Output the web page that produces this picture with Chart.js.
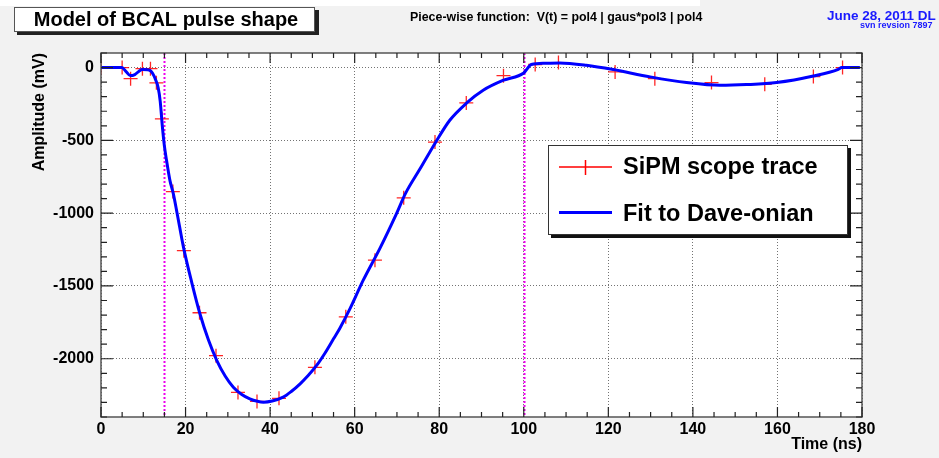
<!DOCTYPE html>
<html>
<head>
<meta charset="utf-8">
<script src="https://cdn.jsdelivr.net/npm/chart.js@4.4.0/dist/chart.umd.min.js"></script>
<style>
  html, body { margin: 0; padding: 0; background: #f2f2f2; }
  canvas { display: block; }
</style>
</head>
<body>
<canvas id="pulseChart" width="939" height="458"></canvas>
<script>
// scope trace samples (ns, mV)
var traceT = [0, 5.0, 7.0, 9.8, 11.7, 13.1, 14.4, 17.0, 19.6, 23.3, 27.2, 32.4, 36.9, 42.1,
              50.6, 57.9, 64.8, 71.6, 79.0, 86.4, 95.2, 102.7, 108.2, 121.6, 131.0, 144.4,
              157.0, 168.5, 175.4];
var traceV = [0, 0, -76, -8, -8, -105, -352, -852, -1258, -1684, -1979, -2231, -2293, -2272,
              -2059, -1712, -1323, -895, -512, -243, -56, 21, 34, -30, -76, -103,
              -115, -62, 0];

// fitted curve
var fitT = [0, 4.9, 6.0, 6.9, 8.0, 9.0, 9.8, 11.0, 11.8, 12.5, 13.0, 13.5, 14.0, 14.5, 15.0,
            15.5, 16.3, 17.1, 18.0, 19.5, 21.5, 23.4, 25.4, 27.4, 29.4, 31.3, 33.3, 35.2,
            37.0, 38.4, 40.5, 43.1, 45.0, 47.1, 49.0, 51.0, 53.0, 55.0, 56.5, 58.9, 62.0,
            66.0, 69.9, 72.0, 75.5, 79.2, 82.5, 86.5, 90.4, 95.2, 100.0, 101.8, 105.0,
            108.5, 114.8, 121.2, 129.9, 138.5, 146.4, 152.7, 159.8, 168.5, 174.4, 175.2, 179.5];
var fitV = [0, 0, -30, -55, -48, -25, -14, -15, -25, -55, -90, -135, -230, -400, -540,
            -637, -775, -866, -1000, -1233, -1480, -1691, -1870, -2012, -2120, -2195, -2245, -2275,
            -2292, -2298, -2290, -2264, -2225, -2172, -2115, -2046, -1960, -1863, -1790, -1656, -1462,
            -1240, -1003, -866, -694, -511, -362, -243, -156, -87, -37, 21, 30,
            32, 16, -14, -64, -103, -122, -117, -103, -58, -12, 0, 0];

var breakpoints = [15, 100];
var xTicks = [0, 20, 40, 60, 80, 100, 120, 140, 160, 180];
var yTicks = [0, -500, -1000, -1500, -2000];

var FONT = "'Liberation Sans', Arial, sans-serif";

function toPoints(xs, ys) {
    return xs.map(function (x, i) { return { x: x, y: ys[i] }; });
}

var rootStyle = {
    id: 'rootStyle',
    beforeDraw: function (chart) {
        var ctx = chart.ctx, a = chart.chartArea;
        ctx.save();
        ctx.fillStyle = '#f2f2f2';
        ctx.fillRect(0, 0, chart.width, chart.height);
        ctx.fillStyle = '#ffffff';
        ctx.fillRect(0, 0, 700, 6);
        ctx.fillRect(a.left, a.top, a.right - a.left, a.bottom - a.top);
        ctx.restore();
    },
    beforeDatasetsDraw: function (chart) {
        var ctx = chart.ctx, a = chart.chartArea, xs = chart.scales.x;
        ctx.save();
        ctx.strokeStyle = '#ee00ee';
        ctx.lineWidth = 2;
        ctx.setLineDash([2, 2]);
        breakpoints.forEach(function (b) {
            var px = Math.round(xs.getPixelForValue(b)) + 0.5;
            ctx.beginPath();
            ctx.moveTo(px, a.top);
            ctx.lineTo(px, a.bottom);
            ctx.stroke();
        });
        ctx.restore();
    },
    afterDraw: function (chart) {
        var ctx = chart.ctx, a = chart.chartArea, xs = chart.scales.x, ys = chart.scales.y;
        ctx.save();

        // frame + inward ticks
        ctx.strokeStyle = '#555';
        ctx.lineWidth = 1.5;
        ctx.strokeRect(a.left, a.top, a.right - a.left, a.bottom - a.top);
        ctx.lineWidth = 1.2;
        ctx.strokeStyle = '#222';
        ctx.beginPath();
        for (var t = 0; t <= 180; t += 5) {
            var px = xs.getPixelForValue(t), len = (t % 20 === 0) ? 10 : 5;
            ctx.moveTo(px, a.bottom); ctx.lineTo(px, a.bottom - len);
            ctx.moveTo(px, a.top); ctx.lineTo(px, a.top + len);
        }
        for (var v = -2400; v <= 100; v += 100) {
            var py = ys.getPixelForValue(v), l2 = (v % 500 === 0) ? 12 : 6;
            ctx.moveTo(a.left, py); ctx.lineTo(a.left + l2, py);
            ctx.moveTo(a.right, py); ctx.lineTo(a.right - l2, py);
        }
        ctx.stroke();

        // title box
        ctx.fillStyle = '#222';
        ctx.fillRect(17, 10, 302, 25);
        ctx.fillStyle = '#ffffff';
        ctx.fillRect(14, 7, 301, 25);
        ctx.strokeStyle = '#555';
        ctx.lineWidth = 1;
        ctx.strokeRect(14.5, 7.5, 300, 24);
        ctx.fillStyle = '#000';
        ctx.font = 'bold 20px ' + FONT;
        ctx.textAlign = 'center';
        ctx.textBaseline = 'middle';
        ctx.fillText('Model of BCAL pulse shape', 166, 20);

        ctx.font = 'bold 12.4px ' + FONT;
        ctx.textAlign = 'left';
        ctx.fillText('Piece-wise function:  V(t) = pol4 | gaus*pol3 | pol4', 410, 18);

        ctx.fillStyle = '#1a1aff';
        ctx.font = 'bold 13.5px ' + FONT;
        ctx.fillText('June 28, 2011 DL', 827, 16);
        ctx.font = 'bold 9px ' + FONT;
        ctx.fillText('svn revsion 7897', 860, 26);

        // legend box
        ctx.fillStyle = '#111';
        ctx.fillRect(551, 148, 300, 90);
        ctx.fillStyle = '#ffffff';
        ctx.fillRect(548, 145, 300, 90);
        ctx.strokeStyle = '#333';
        ctx.lineWidth = 1;
        ctx.strokeRect(548.5, 145.5, 299, 89);

        ctx.strokeStyle = '#ff0000';
        ctx.lineWidth = 1.5;
        ctx.beginPath();
        ctx.moveTo(559, 167); ctx.lineTo(612, 167);
        ctx.moveTo(585.5, 160); ctx.lineTo(585.5, 175);
        ctx.stroke();
        ctx.strokeStyle = '#0000ff';
        ctx.lineWidth = 3;
        ctx.beginPath();
        ctx.moveTo(559, 212.5); ctx.lineTo(612, 212.5);
        ctx.stroke();

        ctx.fillStyle = '#000';
        ctx.font = 'bold 23.5px ' + FONT;
        ctx.textBaseline = 'alphabetic';
        ctx.fillText(chart.data.datasets[0].label, 623, 174);
        ctx.fillText(chart.data.datasets[1].label, 623, 221);
        ctx.restore();
    }
};

var chart = new Chart(document.getElementById('pulseChart'), {
    type: 'scatter',
    data: {
        datasets: [{
            label: 'SiPM scope trace',
            data: toPoints(traceT, traceV),
            showLine: false,
            pointStyle: 'cross',
            pointRadius: 7,
            borderColor: 'rgba(255, 0, 0, 0.85)',
            borderWidth: 1.3,
            order: 1
        }, {
            label: 'Fit to Dave-onian',
            data: toPoints(fitT, fitV),
            showLine: true,
            pointRadius: 0,
            borderColor: '#0000ff',
            borderWidth: 3,
            cubicInterpolationMode: 'monotone',
            order: 0
        }]
    },
    options: {
        responsive: false,
        animation: false,
        layout: { padding: { top: 53, right: 77, left: 0, bottom: 0 } },
        plugins: { legend: { display: false }, tooltip: { enabled: false } },
        scales: {
            x: {
                type: 'linear',
                min: 0,
                max: 180,
                afterBuildTicks: function (s) { s.ticks = xTicks.map(function (v) { return { value: v }; }); },
                afterFit: function (s) { s.height = 41; },
                ticks: { color: '#000', font: { family: FONT, size: 16, weight: 'bold' }, padding: 3, maxRotation: 0,
                         callback: function (v) { return String(v); } },
                grid: { color: 'rgba(0,0,0,0.55)', lineWidth: 1, drawTicks: false },
                border: { display: false, dash: [1, 2] },
                title: { display: true, text: 'Time (ns)', align: 'end', color: '#000',
                         font: { family: FONT, size: 16, weight: 'bold' }, padding: { top: 0, bottom: 4 } }
            },
            y: {
                type: 'linear',
                min: -2400,
                max: 100,
                afterBuildTicks: function (s) { s.ticks = yTicks.map(function (v) { return { value: v }; }); },
                afterFit: function (s) { s.width = 101; },
                ticks: { color: '#000', font: { family: FONT, size: 16, weight: 'bold' }, padding: 7,
                         callback: function (v) { return String(v); } },
                grid: { color: 'rgba(0,0,0,0.55)', lineWidth: 1, drawTicks: false },
                border: { display: false, dash: [1, 2] },
                title: { display: true, text: 'Amplitude (mV)', align: 'end', color: '#000',
                         font: { family: FONT, size: 16, weight: 'bold' }, padding: { top: 30, bottom: 0 } }
            }
        }
    },
    plugins: [rootStyle]
});
</script>
</body>
</html>
